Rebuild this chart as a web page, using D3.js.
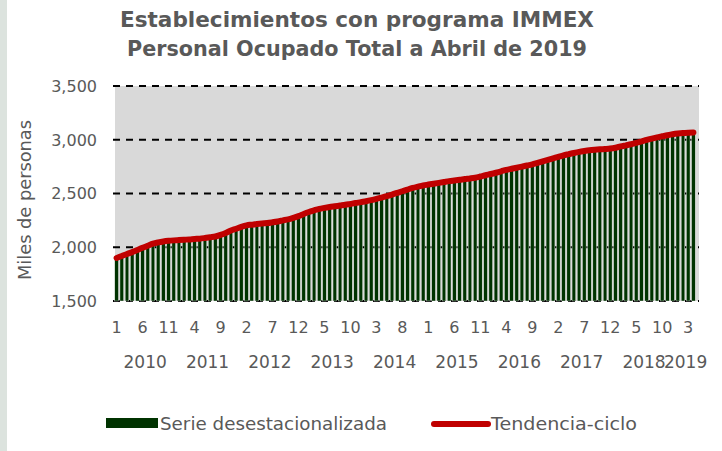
<!DOCTYPE html>
<html>
<head>
<meta charset="utf-8">
<script src="https://cdn.jsdelivr.net/npm/d3@7"></script>
<style>
  body { margin: 0; background: #fff; }
  text { font-family: "DejaVu Sans", sans-serif; fill: #595959; }
</style>
</head>
<body>
<div id="chart"></div>
<script>
// monthly values, Jan 2010 - Apr 2019 (miles de personas)
var years = [2010, 2011, 2012, 2013, 2014, 2015, 2016, 2017, 2018, 2019];

var tendencia = [
    1900, 1918, 1937, 1955, 1975, 1995, 2014, 2033, 2045, 2054, 2060, 2064,
    2067, 2070, 2073, 2077, 2080, 2086, 2093, 2100, 2115, 2133, 2155, 2172,
    2190, 2204, 2210, 2216, 2221, 2225, 2232, 2240, 2250, 2260, 2274, 2290,
    2310, 2328, 2343, 2357, 2366, 2374, 2381, 2388, 2395, 2403, 2411, 2420,
    2428, 2438, 2450, 2462, 2475, 2490, 2506, 2521, 2537, 2552, 2564, 2575,
    2583, 2591, 2599, 2607, 2615, 2621, 2627, 2634, 2640, 2647, 2658, 2670,
    2681, 2693, 2706, 2720, 2730, 2740, 2750, 2760, 2771, 2785, 2799, 2813,
    2827, 2841, 2855, 2866, 2877, 2887, 2895, 2902, 2907, 2911, 2914, 2918,
    2926, 2938, 2948, 2958, 2971, 2984, 2998, 3011, 3022, 3032, 3042, 3051,
    3058, 3063, 3066, 3068
];

var serie = [
    1895, 1915, 1930, 1952, 1970, 1992, 2010, 2028, 2040, 2050, 2057, 2060,
    2063, 2066, 2070, 2072, 2076, 2082, 2090, 2096, 2110, 2128, 2150, 2168,
    2185, 2198, 2206, 2212, 2216, 2220, 2228, 2236, 2245, 2255, 2270, 2285,
    2305, 2322, 2338, 2352, 2361, 2370, 2376, 2383, 2390, 2398, 2406, 2415,
    2424, 2433, 2445, 2457, 2470, 2485, 2500, 2516, 2532, 2547, 2559, 2570,
    2578, 2586, 2594, 2602, 2610, 2616, 2622, 2629, 2635, 2642, 2653, 2665,
    2676, 2688, 2701, 2714, 2725, 2735, 2745, 2755, 2766, 2780, 2794, 2808,
    2822, 2836, 2850, 2861, 2872, 2882, 2890, 2897, 2902, 2906, 2909, 2913,
    2921, 2933, 2943, 2953, 2966, 2979, 2993, 3006, 3017, 3027, 3037, 3046,
    3053, 3058, 3061, 3064
];

var yTicks = [1500, 2000, 2500, 3000, 3500];

var months = [];
years.forEach(function(y) {
    for (var m = 1; m <= 12; m++) {
        if (months.length < tendencia.length) months.push({year: y, month: m});
    }
});

var svg = d3.select("#chart").append("svg")
    .attr("width", 722)
    .attr("height", 451);

// left frame strip
svg.append("rect").attr("x", 0).attr("y", 0).attr("width", 7).attr("height", 451)
    .attr("fill", "#dce3de");

var margin = {top: 86, right: 23, bottom: 150, left: 114};
var width = 722 - margin.left - margin.right;
var height = 451 - margin.top - margin.bottom;

var g = svg.append("g")
    .attr("transform", "translate(" + margin.left + "," + margin.top + ")");

var x = d3.scaleBand()
    .domain(d3.range(tendencia.length))
    .range([0, width - 3])
    .paddingInner(0.3)
    .paddingOuter(0.15);

var y = d3.scaleLinear()
    .domain([1500, 3500])
    .range([height, 0]);

// plot background
g.append("rect")
    .attr("x", 1).attr("y", 0)
    .attr("width", width - 1).attr("height", height)
    .attr("fill", "#d9d9d9");

// gridlines
g.selectAll(".grid").data(yTicks).enter().append("line")
    .attr("x1", -1).attr("x2", width)
    .attr("y1", function(d) { return y(d); })
    .attr("y2", function(d) { return y(d); })
    .attr("stroke", "#000")
    .attr("stroke-width", 2)
    .attr("stroke-dasharray", "7,6");

// bars
g.selectAll(".bar").data(serie).enter().append("rect")
    .attr("x", function(d, i) { return x(i); })
    .attr("width", x.bandwidth())
    .attr("y", function(d) { return y(d); })
    .attr("height", function(d) { return height - y(d); })
    .attr("fill", "#003300")
    .attr("stroke", "#eef0ee")
    .attr("stroke-width", 0.4);

// trend line
var line = d3.line()
    .x(function(d, i) { return x(i) + x.bandwidth() / 2; })
    .y(function(d) { return y(d); })
    .curve(d3.curveMonotoneX);

g.append("path")
    .datum(tendencia)
    .attr("d", line)
    .attr("fill", "none")
    .attr("stroke", "#c00000")
    .attr("stroke-width", 6)
    .attr("stroke-linecap", "round")
    .attr("stroke-linejoin", "round");

// y axis labels
g.selectAll(".ylab").data(yTicks).enter().append("text")
    .attr("x", -17)
    .attr("y", function(d) { return y(d); })
    .attr("dy", "0.36em")
    .attr("text-anchor", "end")
    .style("font-size", "16px")
    .text(d3.format(","));

// month labels, every 5 months
var labelIdx = d3.range(0, tendencia.length, 5);
g.selectAll(".mlab").data(labelIdx).enter().append("text")
    .attr("x", function(i) { return x(i) + x.bandwidth() / 2; })
    .attr("y", height + 32)
    .attr("text-anchor", "middle")
    .style("font-size", "16px")
    .text(function(i) { return months[i].month; });

// year labels centred on each year's months
g.selectAll(".ylabel").data(years).enter().append("text")
    .attr("x", function(yr) {
        var idx = months.map(function(m, i) { return m.year === yr ? i : -1; })
            .filter(function(i) { return i >= 0; });
        var a = x(idx[0]), b = x(idx[idx.length - 1]) + x.bandwidth();
        return (a + b) / 2;
    })
    .attr("y", height + 67)
    .attr("text-anchor", "middle")
    .style("font-size", "17px")
    .text(function(d) { return d; });

// y axis title
svg.append("text")
    .attr("transform", "translate(31,200) rotate(-90)")
    .attr("text-anchor", "middle")
    .attr("textLength", 160)
    .attr("lengthAdjust", "spacingAndGlyphs")
    .style("font-size", "17px")
    .text("Miles de personas");

// title
var title = ["Establecimientos con programa IMMEX", "Personal Ocupado Total a Abril de 2019"];
svg.selectAll(".title").data(title).enter().append("text")
    .attr("x", 357)
    .attr("y", function(d, i) { return 27 + i * 29; })
    .attr("text-anchor", "middle")
    .attr("textLength", function(d, i) { return i === 0 ? 474 : 460; })
    .attr("lengthAdjust", "spacingAndGlyphs")
    .style("font-size", "21px")
    .style("font-weight", "bold")
    .text(function(d) { return d; });

// legend
var leg = svg.append("g");
leg.append("rect").attr("x", 106).attr("y", 418).attr("width", 52).attr("height", 10)
    .attr("fill", "#003300");
leg.append("text").attr("x", 160).attr("y", 430)
    .attr("textLength", 227)
    .attr("lengthAdjust", "spacingAndGlyphs")
    .style("font-size", "17px")
    .text("Serie desestacionalizada");
leg.append("line").attr("x1", 434).attr("x2", 488).attr("y1", 424).attr("y2", 424)
    .attr("stroke", "#c00000").attr("stroke-width", 6).attr("stroke-linecap", "round");
leg.append("text").attr("x", 491).attr("y", 430)
    .attr("textLength", 146)
    .attr("lengthAdjust", "spacingAndGlyphs")
    .style("font-size", "17px")
    .text("Tendencia-ciclo");
</script>
</body>
</html>
